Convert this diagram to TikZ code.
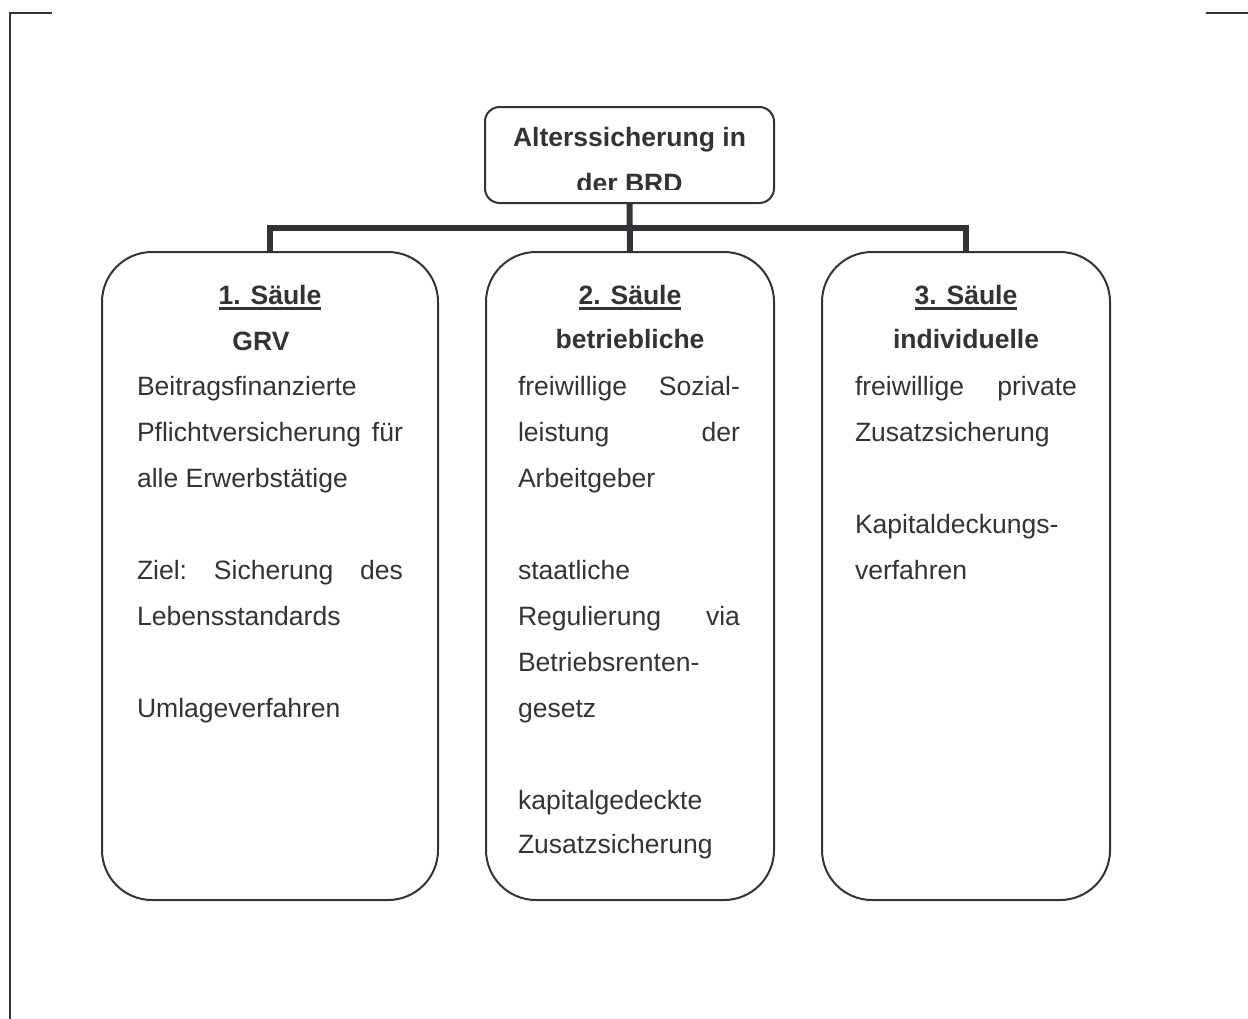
\documentclass[tikz,border=0pt]{standalone}
\usepackage{fontspec}
\setmainfont{Liberation Sans}
\definecolor{ink}{RGB}{50,50,55}
\newcommand{\ulbox}[1]{\setbox0\hbox{#1}\rlap{\rule[-4.2pt]{\wd0}{1.9pt}}\box0}
\newcommand{\jline}[2]{\hbox to #1{#2}}
\begin{document}
\begin{tikzpicture}[x=0.75pt,y=-0.75pt,
  every node/.style={inner sep=0pt,outer sep=0pt,text=ink,font=\fontsize{19.9}{24}\selectfont},
  pillar/.style={draw=ink,line width=1.5pt,rounded corners=37.5pt,minimum height=486pt},
  topbox/.style={draw=ink,line width=1.5pt,rounded corners=11pt,minimum width=216.75pt,minimum height=72pt},
  conn/.style={draw=ink,line width=4.5pt},
  frame/.style={draw=ink,line width=1.5pt},
  txt/.style={anchor=base west},
  ttl/.style={anchor=base,font=\fontsize{19.9}{24}\selectfont\bfseries}]
\useasboundingbox (0,0) rectangle (1248,1018);
% frame corners
\draw[frame] (52,13) -- (10,13) -- (10,1020);
\draw[frame] (1206,13) -- (1250,13);
% boxes
\node[topbox] (top) at (629.5,155) {};
\node[pillar,minimum width=252pt] (b1) at (270,576) {};
\node[pillar,minimum width=216pt] (b2) at (630,576) {};
\node[pillar,minimum width=216pt] (b3) at (966,576) {};
% connectors
\draw[conn] (b1.north) -- ++(0,-24) -| (b3.north);
\draw[conn] (top.south) -- (b2.north);
% top box text (clipped)
\begin{scope}
\clip (487,109) rectangle (772,189.5);
\node[ttl] (t1) at (629.5,146) {Alterssicherung in};
\node[ttl] (t2) at (629.5,192) {der BRD};
\end{scope}
% pillar 1
\node[ttl] (p1a) at (270,304) {\ulbox{1. Säule}};
\node[ttl] (p1b) at (261,350) {GRV};
\node[txt] (p1c) at (137,395) {Beitragsfinanzierte};
\node[txt] (p1d) at (137,441) {\jline{199.5pt}{Pflichtversicherung\hfill für}};
\node[txt] (p1e) at (137,487) {alle Erwerbstätige};
\node[txt] (p1f) at (137,579) {\jline{199.5pt}{Ziel:\hfill Sicherung\hfill des}};
\node[txt] (p1g) at (137,625) {Lebensstandards};
\node[txt] (p1h) at (137,717) {Umlageverfahren};
% pillar 2
\node[ttl] (p2a) at (630,304) {\ulbox{2. Säule}};
\node[ttl] (p2b) at (630,348) {betriebliche};
\node[txt] (p2c) at (518,395) {\jline{166.5pt}{freiwillige\hfill Sozial-}};
\node[txt] (p2d) at (518,441) {\jline{166.5pt}{leistung\hfill der}};
\node[txt] (p2e) at (518,487) {Arbeitgeber};
\node[txt] (p2f) at (518,579) {staatliche};
\node[txt] (p2g) at (518,625) {\jline{166.5pt}{Regulierung\hfill via}};
\node[txt] (p2h) at (518,671) {Betriebsrenten-};
\node[txt] (p2i) at (518,717) {gesetz};
\node[txt] (p2j) at (518,809) {kapitalgedeckte};
\node[txt] (p2k) at (518,853) {Zusatzsicherung};
% pillar 3
\node[ttl] (p3a) at (966,304) {\ulbox{3. Säule}};
\node[ttl] (p3b) at (966,348) {individuelle};
\node[txt] (p3c) at (855,395) {\jline{166.5pt}{freiwillige\hfill private}};
\node[txt] (p3d) at (855,441) {Zusatzsicherung};
\node[txt] (p3e) at (855,533) {Kapitaldeckungs-};
\node[txt] (p3f) at (855,579) {verfahren};
\end{tikzpicture}
\end{document}
